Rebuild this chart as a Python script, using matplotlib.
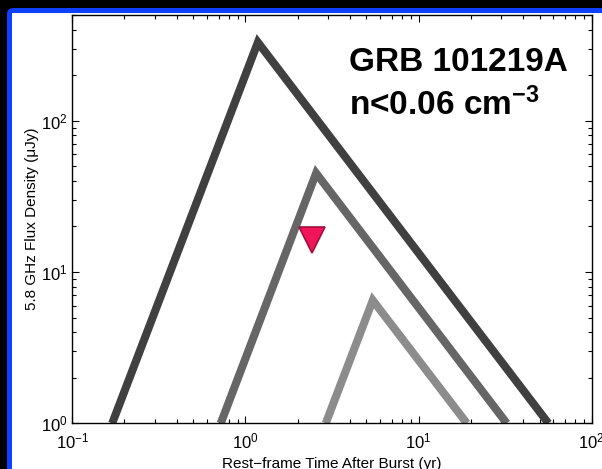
import numpy as np
import matplotlib
matplotlib.use('Agg')
import matplotlib.pyplot as plt
from matplotlib.patches import FancyBboxPatch, Rectangle

plt.rcParams['font.family'] = ['Liberation Sans', 'DejaVu Sans']
plt.rcParams['mathtext.fontset'] = 'custom'
plt.rcParams['mathtext.rm'] = 'Liberation Sans'
plt.rcParams['mathtext.it'] = 'Liberation Sans:italic'
plt.rcParams['mathtext.bf'] = 'Liberation Sans:bold'

# light curves (rest-frame yr, uJy): rise -> peak -> decay
t_dense = [0.170, 1.18, 56.2]
f_dense = [1.0, 330.0, 1.0]
t_mid = [0.72, 2.56, 32.3]
f_mid = [1.0, 45.0, 1.0]
t_low = [2.91, 5.44, 19.0]
f_low = [1.0, 6.5, 1.0]
line_colors = ['#404040', '#666666', '#8c8c8c']

# upper limit
t_lim = [2.43]
f_lim = [16.4]

W, H = 602, 469
fig = plt.figure(figsize=(W / 100, H / 100), dpi=100, facecolor='black')

# blue window frame + white inside
fig.patches.append(FancyBboxPatch((7 / W, -0.1), 1.2, (H - 8) / H + 0.1, boxstyle='round,pad=0,rounding_size=0.012',
                                  transform=fig.transFigure, facecolor='#1040ff', edgecolor='none', zorder=0))
fig.patches.append(Rectangle((12 / W, -0.1), 1.2, (H - 13.5) / H + 0.1, transform=fig.transFigure,
                             facecolor='white', edgecolor='none', zorder=0.5))

ax = fig.add_axes([72.3 / W, 45.7 / H, (591.7 - 72.3) / W, (454 - 45.7) / H])
ax.set_zorder(3)
ax.set_facecolor('white')

for t, f, c in zip([t_dense, t_mid, t_low], [f_dense, f_mid, f_low], line_colors):
    ax.plot(t, f, color=c, lw=5.8, solid_joinstyle='miter', solid_capstyle='butt')

ax.plot(t_lim, f_lim, linestyle='none', marker='v', ms=19, mfc='#f0145a', mec='#a0103a', mew=1.2)

ax.set_xscale('log')
ax.set_yscale('log')
ax.set_xlim(0.1, 100)
ax.set_ylim(1, 500)

ax.tick_params(which='both', direction='in', top=True, right=True, labelsize=12, width=0.8)
ax.tick_params(which='major', length=5)
ax.tick_params(which='minor', length=3)
ax.tick_params(axis='x', which='major', pad=6)
for s in ax.spines.values():
    s.set_linewidth(1.0)

ax.set_xlabel('Rest\u2212frame Time After Burst (yr)', fontsize=11, labelpad=4)
ax.set_ylabel('5.8 GHz Flux Density (\u03bcJy)', fontsize=11, labelpad=1)

fig.text(349 / W, 1 - 71 / H, 'GRB 101219A', fontsize=24, fontweight='bold', ha='left', va='baseline', zorder=5)
fig.text(349 / W, 1 - 115 / H, r'n<0.06 cm$^{\mathbf{-3}}$', fontsize=24, fontweight='bold', ha='left', va='baseline', zorder=5)

fig.savefig('out.png', dpi=100, facecolor=fig.get_facecolor())
